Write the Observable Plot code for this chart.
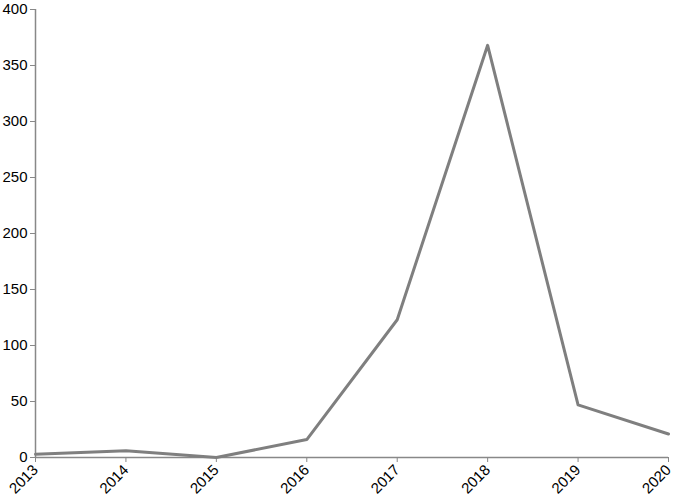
<!DOCTYPE html>
<html><head><meta charset="utf-8">
<script src="https://cdn.jsdelivr.net/npm/d3@7"></script>
<script src="https://cdn.jsdelivr.net/npm/@observablehq/plot@0.6"></script>
<style>body{margin:0;background:#fff;} svg{font-family:"Liberation Sans",Arial,sans-serif;}</style>
</head><body><div id="chart"></div>
<script>
const years = [2013, 2014, 2015, 2016, 2017, 2018, 2019, 2020];
const values = [3, 6, 0, 16, 123, 368, 47, 21];
const yTicks = [0, 50, 100, 150, 200, 250, 300, 350, 400];
const data = years.map((y, i) => ({year: y, value: values[i]}));
const chart = Plot.plot({
  width: 673, height: 501,
  marginLeft: 35, marginRight: 5, marginTop: 9, marginBottom: 44,
  style: {fontSize: "15px", fontFamily: "Liberation Sans, Arial, sans-serif", color: "#000", background: "#fff"},
  x: {domain: [2013, 2020], ticks: years, tickFormat: d => String(d), label: null},
  y: {domain: [0, 400], ticks: yTicks, label: null},
  marks: [
    Plot.axisY({ticks: yTicks, tickSize: 5, tickPadding: 3, stroke: "#888", fill: "#000", fontSize: 15, label: null}),
    Plot.axisX({ticks: years, tickFormat: d => String(d), tickSize: 5, tickRotate: -45, tickPadding: 5, stroke: "#888", fill: "#000", fontSize: 15, label: null}),
    Plot.ruleX([2013], {stroke: "#888", strokeWidth: 1.5}),
    Plot.ruleY([0], {stroke: "#888", strokeWidth: 1.5}),
    Plot.line(data, {x: "year", y: "value", stroke: "#7f7f7f", strokeWidth: 3})
  ]
});
document.getElementById("chart").appendChild(chart);
</script></body></html>
